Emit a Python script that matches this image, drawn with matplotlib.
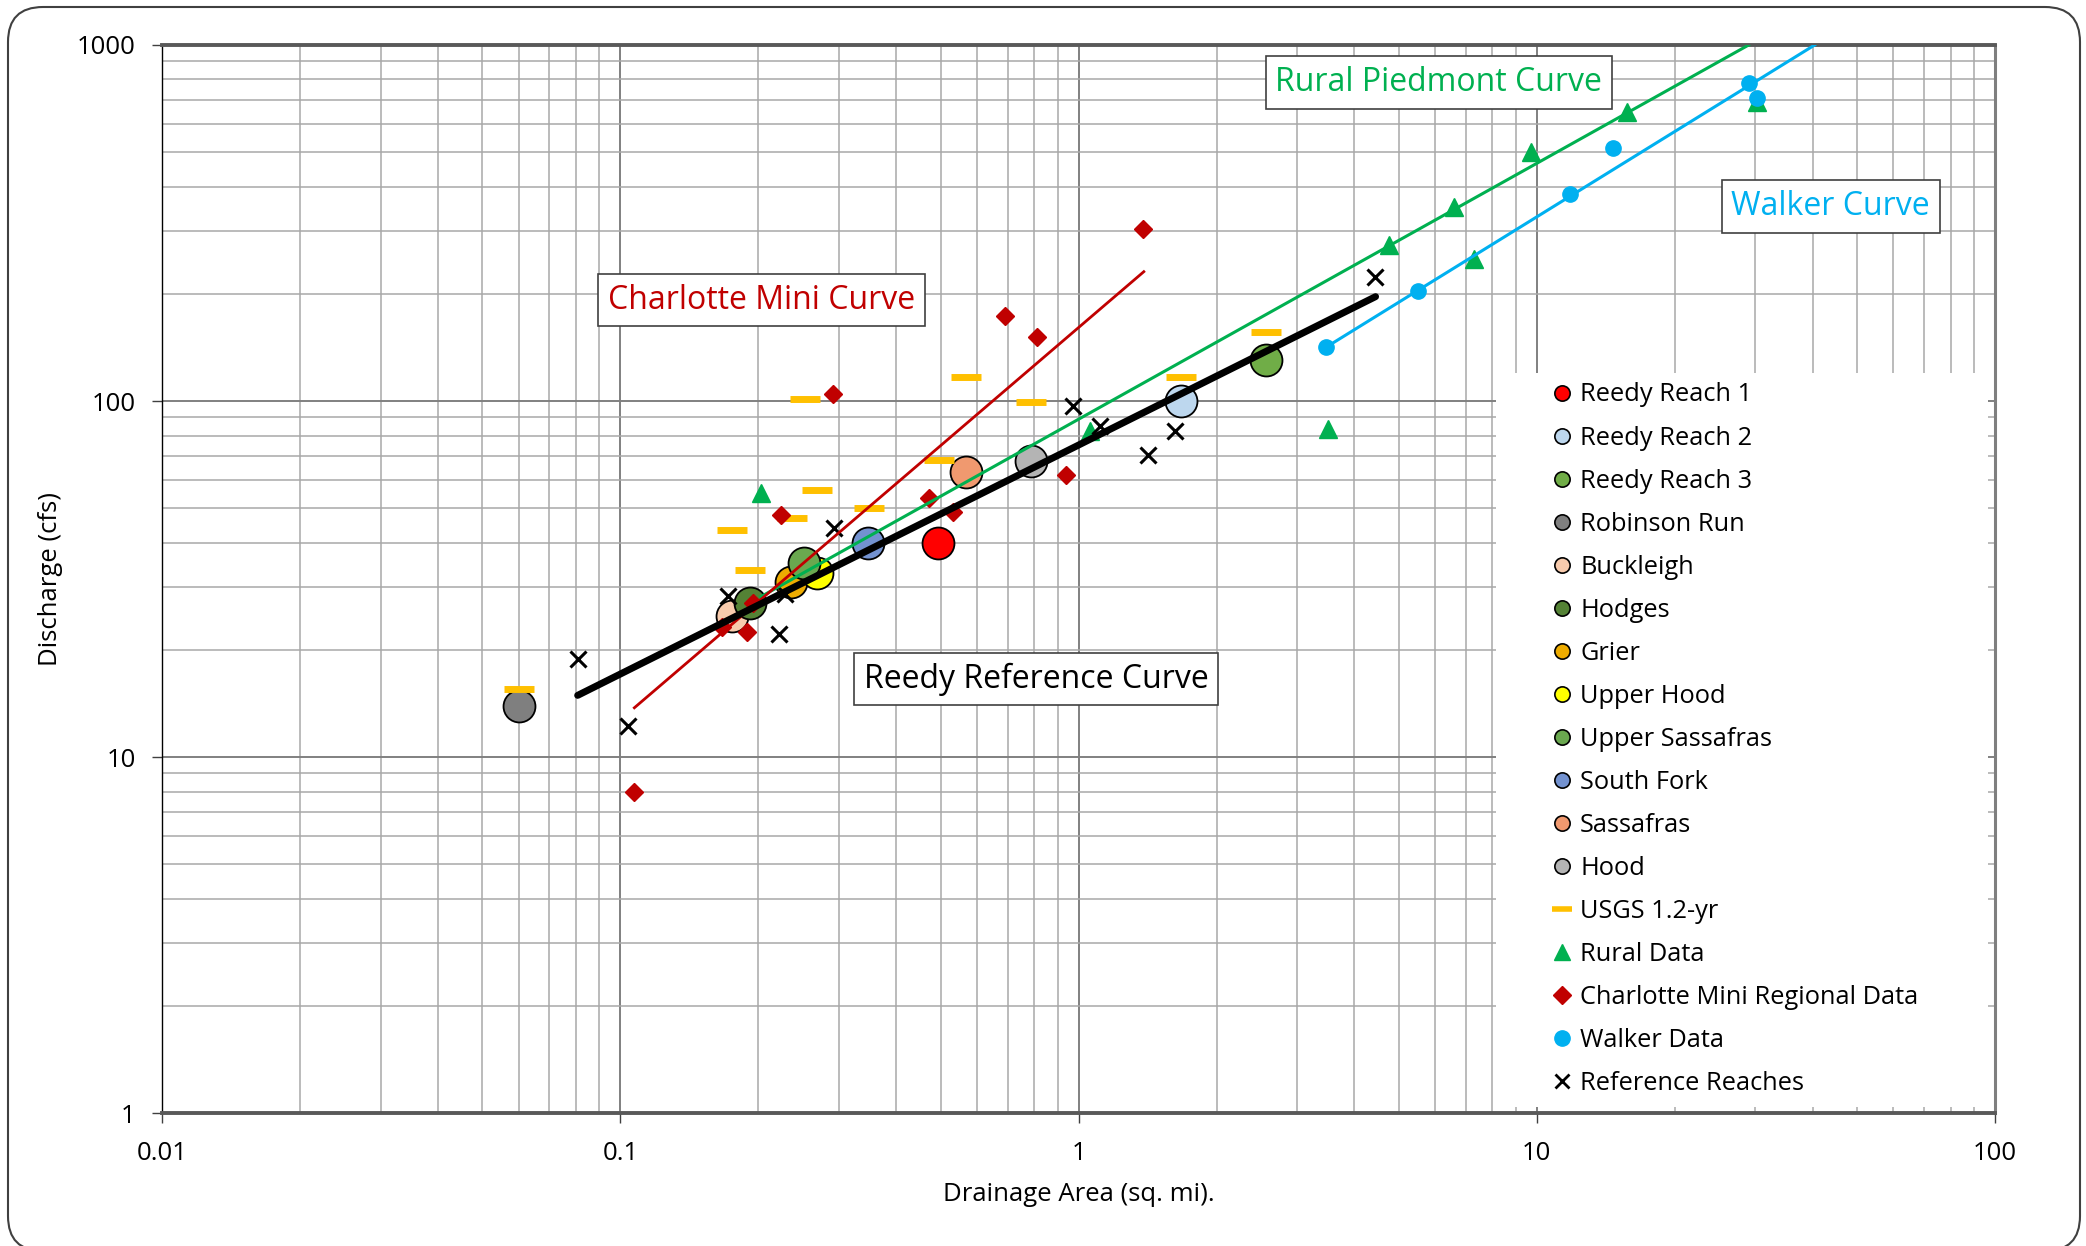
import matplotlib
matplotlib.use("Agg")
import matplotlib.pyplot as plt
from matplotlib.lines import Line2D
from matplotlib.patches import Rectangle, FancyBboxPatch
from matplotlib.ticker import LogLocator, NullFormatter, FixedLocator, FixedFormatter

plt.rcParams['font.family'] = ['Open Sans', 'DejaVu Sans']

# reach survey points (drainage area sq mi, discharge cfs)
reach_names = ["Reedy Reach 1", "Reedy Reach 2", "Reedy Reach 3", "Robinson Run", "Buckleigh",
               "Hodges", "Grier", "Upper Hood", "Upper Sassafras", "South Fork", "Sassafras", "Hood"]
reach_area = [0.494, 1.676, 2.559, 0.060, 0.175, 0.192, 0.236, 0.268, 0.252, 0.348, 0.567, 0.789]
reach_q = [40.0, 100.0, 130.0, 13.9, 24.9, 27.0, 31.0, 32.8, 35.1, 40.0, 63.0, 68.0]
reach_colors = ['#ff0000', '#bdd7ee', '#70ad47', '#7f7f7f', '#f8cbad', '#548235',
                '#eeac00', '#ffff00', '#6aa84f', '#7392d0', '#f0996f', '#b4b4b4']

usgs_area = [0.060, 0.175, 0.192, 0.237, 0.268, 0.253, 0.349, 0.496, 0.568, 0.789, 1.676, 2.559]
usgs_q = [15.5, 43.4, 33.5, 47.0, 56.2, 101.0, 49.9, 68.3, 116.8, 99.2, 116.8, 156.6]

rural_area = [0.2025, 1.06, 3.494, 4.756, 6.60, 7.29, 9.73, 15.74, 30.27]
rural_q = [55.0, 82.4, 83.3, 274.3, 351.4, 250.0, 501.6, 649.5, 690.0]

charlotte_area = [0.1073, 0.1665, 0.1888, 0.195, 0.2243, 0.291, 0.472, 0.533, 0.692, 0.812, 0.938, 1.381]
charlotte_q = [7.96, 23.2, 22.5, 27.1, 47.8, 104.8, 53.3, 48.9, 173.6, 151.0, 62.0, 304.6]

walker_area = [3.465, 5.515, 11.81, 14.65, 29.1, 30.27]
walker_q = [141.5, 203.7, 380.6, 512.6, 783.8, 708.6]

ref_area = [0.0807, 0.1041, 0.172, 0.2223, 0.2289, 0.293, 0.973, 1.113, 1.418, 1.623, 4.43]
ref_q = [18.8, 12.2, 28.4, 22.2, 28.7, 44.1, 96.8, 85.2, 70.5, 82.5, 222.6]

# curve end points
reedy_curve_area = [0.0807, 4.448]
reedy_curve_q = [14.9, 196.4]
charlotte_curve_area = [0.1073, 1.388]
charlotte_curve_q = [13.75, 230.8]
rural_curve_area = [0.2025, 29.0]
rural_curve_q = [28.2, 1000.0]
walker_curve_area = [3.465, 40.4]
walker_curve_q = [141.5, 1000.0]

x_ticks = [0.01, 0.1, 1, 10, 100]
x_tick_labels = ["0.01", "0.1", "1", "10", "100"]
y_ticks = [1, 10, 100, 1000]
y_tick_labels = ["1", "10", "100", "1000"]

fig = plt.figure(figsize=(20.86, 12.46), dpi=100)
ax = fig.add_axes([0.0777, 0.1067, 0.8787, 0.8572])
ax.set_xscale('log')
ax.set_yscale('log')
ax.set_xlim(0.01, 100)
ax.set_ylim(1, 1000)
ax.set_axisbelow(True)

for a, q, c in zip(reach_area, reach_q, reach_colors):
    ax.plot(a, q, 'o', ms=23, mfc=c, mec='black', mew=1.3, zorder=3)
ax.plot(usgs_area, usgs_q, '_', ms=22, mew=5, color='#ffc000', ls='none', zorder=3)
ax.plot(rural_area, rural_q, '^', ms=13, color='#00b050', ls='none', zorder=3)
ax.plot(charlotte_area, charlotte_q, 'D', ms=9, color='#c00000', ls='none', zorder=3)
ax.plot(walker_area, walker_q, 'o', ms=11, color='#00b0f0', ls='none', zorder=3)
ax.plot(ref_area, ref_q, 'x', ms=12, mew=2.2, color='black', ls='none', zorder=3)

ax.plot(rural_curve_area, rural_curve_q, color='#00b050', lw=2.2, zorder=4)
ax.plot(walker_curve_area, walker_curve_q, color='#00b0f0', lw=2.2, zorder=4)
ax.plot(charlotte_curve_area, charlotte_curve_q, color='#c00000', lw=2.0, zorder=4)
ax.plot(reedy_curve_area, reedy_curve_q, color='black', lw=5, solid_capstyle='round', zorder=5)

# grid
ax.xaxis.set_minor_locator(LogLocator(base=10, subs=range(2, 10)))
ax.yaxis.set_minor_locator(LogLocator(base=10, subs=range(2, 10)))
ax.xaxis.set_minor_formatter(NullFormatter())
ax.yaxis.set_minor_formatter(NullFormatter())
ax.xaxis.set_major_locator(FixedLocator(x_ticks))
ax.xaxis.set_major_formatter(FixedFormatter(x_tick_labels))
ax.yaxis.set_major_locator(FixedLocator(y_ticks))
ax.yaxis.set_major_formatter(FixedFormatter(y_tick_labels))
ax.grid(True, which='major', color='#808080', lw=1.4)
ax.grid(True, which='minor', color='#a8a8a8', lw=1.1)
ax.tick_params(which='major', direction='out', length=7, width=1, labelsize=18.5, color='#404040')
ax.tick_params(axis='x', which='major', pad=13)
ax.tick_params(axis='y', which='major', pad=12)
ax.tick_params(which='minor', length=0)

for side in ['top', 'bottom']:
    ax.spines[side].set_color('#595959')
    ax.spines[side].set_linewidth(2.8)
ax.spines['right'].set_color('#7f7f7f')
ax.spines['right'].set_linewidth(2.2)
ax.spines['left'].set_color('black')
ax.spines['left'].set_linewidth(1.0)

ax.set_xlabel("Drainage Area (sq. mi).", fontsize=18.5, labelpad=12)
ax.set_ylabel("Discharge (cfs)", fontsize=18.5, labelpad=10)

# white area behind the legend
ax.add_patch(Rectangle((0.728, 0.0056), 0.268, 0.6874, transform=ax.transAxes,
                       facecolor='white', edgecolor='none', zorder=1))

handles = []
for c in reach_colors:
    handles.append(Line2D([], [], marker='o', ls='none', ms=11, mfc=c, mec='black', mew=1.2))
handles.append(Line2D([], [], marker='_', ls='none', ms=15, mew=4, color='#ffc000'))
handles.append(Line2D([], [], marker='^', ls='none', ms=12, color='#00b050'))
handles.append(Line2D([], [], marker='D', ls='none', ms=9, color='#c00000'))
handles.append(Line2D([], [], marker='o', ls='none', ms=11, color='#00b0f0'))
handles.append(Line2D([], [], marker='x', ls='none', ms=10, mew=2, color='black'))
labels = reach_names + ["USGS 1.2-yr", "Rural Data", "Charlotte Mini Regional Data",
                        "Walker Data", "Reference Reaches"]
ax.legend(handles, labels, loc='upper left', bbox_to_anchor=(0.757, 0.684), frameon=False,
          fontsize=18.3, handlelength=1.0, handletextpad=0.2, labelspacing=0.71,
          borderpad=0, borderaxespad=0)

box = dict(boxstyle='square,pad=0.3', facecolor='white', edgecolor='#404040', lw=1.2)
ax.text(0.327, 0.761, "Charlotte Mini Curve", transform=ax.transAxes, color='#c00000',
        fontsize=23, ha='center', va='center', bbox=box, zorder=6)
ax.text(0.6964, 0.9649, "Rural Piedmont Curve", transform=ax.transAxes, color='#00b050',
        fontsize=23, ha='center', va='center', bbox=box, zorder=6)
ax.text(0.9103, 0.8488, "Walker Curve", transform=ax.transAxes, color='#00b0f0',
        fontsize=23, ha='center', va='center', bbox=box, zorder=6)
ax.text(0.4768, 0.4064, "Reedy Reference Curve", transform=ax.transAxes, color='black',
        fontsize=23, ha='center', va='center', bbox=box, zorder=6)

# slide frame
frame = FancyBboxPatch((0.08, -0.05), 20.72, 12.44, boxstyle='round,pad=0,rounding_size=0.35',
                       transform=fig.dpi_scale_trans, facecolor='none', edgecolor='#404040', lw=1.5)
fig.patches.append(frame)

fig.savefig("out.png", dpi=100)
